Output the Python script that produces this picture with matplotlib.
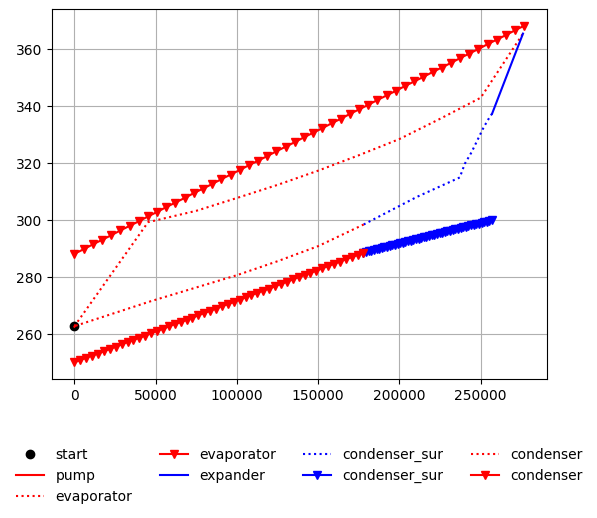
import matplotlib
matplotlib.use('Agg')
import matplotlib.pyplot as plt

# punto inicial y bomba
start_h = [0]
start_T = [262.8]
pump_h = [0, 250]
pump_T = [262.6, 262.8]

# fluido de trabajo en el evaporador
evap_h = [0, 45300, 75000, 100000, 125000, 150000, 175000, 200000, 225000, 250000, 276000]
evap_T = [262.8, 299.3, 303.3, 307.8, 312.4, 317.4, 322.8, 328.5, 335.6, 343.0, 365.5]

# fuente caliente del evaporador
evap_src_h = [0, 5650, 11300, 16950, 22600, 28250, 33900, 39550, 45200, 50850,
              56500, 62150, 67800, 73450, 79100, 84750, 90400, 96050, 101700, 107350,
              113000, 118650, 124300, 129950, 135600, 141250, 146900, 152550, 158200, 163850,
              169500, 175150, 180800, 186450, 192100, 197750, 203400, 209050, 214700, 220350,
              226000, 231650, 237300, 242950, 248600, 254250, 259900, 265550, 271200, 276850]
evap_src_T = [288.2, 289.8, 291.5, 293.1, 294.7, 296.4, 298.0, 299.6, 301.3, 302.9,
              304.6, 306.2, 307.8, 309.5, 311.1, 312.7, 314.4, 316.0, 317.6, 319.3,
              320.9, 322.5, 324.2, 325.8, 327.4, 329.1, 330.7, 332.3, 334.0, 335.6,
              337.3, 338.9, 340.5, 342.2, 343.8, 345.4, 347.1, 348.7, 350.3, 352.0,
              353.6, 355.2, 356.9, 358.5, 360.1, 361.8, 363.4, 365.0, 366.7, 368.3]

# expansor
exp_h = [276000, 257000]
exp_T = [365.5, 337.4]

# condensador, parte sobrecalentada
cond_sur_h = [257000, 255500, 251800, 248400, 244300, 240200, 237100, 210800, 178000]
cond_sur_T = [337.4, 336.2, 332.6, 328.6, 323.8, 319.8, 315.0, 308.2, 298.5]

cond_sur_src_h = [177870, 179485, 181100, 182715, 184330, 185945, 187560, 189175, 190790, 192405,
                  194020, 195635, 197250, 198865, 200480, 202095, 203710, 205325, 206940, 208555,
                  210170, 211785, 213400, 215015, 216630, 218245, 219860, 221475, 223090, 224705,
                  226320, 227935, 229550, 231165, 232780, 234395, 236010, 237625, 239240, 240855,
                  242470, 244085, 245700, 247315, 248930, 250545, 252160, 253775, 255390, 257005]
cond_sur_src_T = [288.60, 288.83, 289.07, 289.30, 289.53, 289.76, 290.00, 290.23, 290.46, 290.69,
                  290.93, 291.16, 291.39, 291.63, 291.86, 292.09, 292.32, 292.56, 292.79, 293.02,
                  293.25, 293.49, 293.72, 293.95, 294.18, 294.42, 294.65, 294.88, 295.12, 295.35,
                  295.58, 295.81, 296.05, 296.28, 296.51, 296.74, 296.98, 297.21, 297.44, 297.68,
                  297.91, 298.14, 298.37, 298.61, 298.84, 299.07, 299.30, 299.54, 299.77, 300.00]

# condensador
cond_h = [178000, 150000, 125000, 100000, 47200, 0]
cond_T = [298.5, 290.9, 285.6, 280.7, 271.6, 262.8]

cond_src_h = [0, 3630, 7260, 10890, 14520, 18150, 21780, 25410, 29040, 32670,
              36300, 39930, 43560, 47190, 50820, 54450, 58080, 61710, 65340, 68970,
              72600, 76230, 79860, 83490, 87120, 90750, 94380, 98010, 101640, 105270,
              108900, 112530, 116160, 119790, 123420, 127050, 130680, 134310, 137940, 141570,
              145200, 148830, 152460, 156090, 159720, 163350, 166980, 170610, 174240, 177870]
cond_src_T = [250.1, 250.9, 251.7, 252.5, 253.2, 254.0, 254.8, 255.6, 256.4, 257.2,
              258.0, 258.7, 259.5, 260.3, 261.1, 261.9, 262.7, 263.5, 264.2, 265.0,
              265.8, 266.6, 267.4, 268.2, 269.0, 269.8, 270.5, 271.3, 272.1, 272.9,
              273.7, 274.5, 275.3, 276.0, 276.8, 277.6, 278.4, 279.2, 280.0, 280.8,
              281.5, 282.3, 283.1, 283.9, 284.7, 285.5, 286.3, 287.0, 287.8, 288.6]


fig, ax = plt.subplots(figsize=(5.97, 5.18))
fig.subplots_adjust(left=0.087, right=0.916, top=0.983, bottom=0.268)

ax.plot(start_h, start_T, 'ko', label='start')
ax.plot(pump_h, pump_T, 'r-', label='pump')
ax.plot(evap_h, evap_T, 'r:', label='evaporator')
ax.plot(evap_src_h, evap_src_T, 'r-v', label='evaporator')
ax.plot(exp_h, exp_T, 'b-', label='expander')
ax.plot(cond_sur_h, cond_sur_T, 'b:', label='condenser_sur')
ax.plot(cond_sur_src_h, cond_sur_src_T, 'b-v', label='condenser_sur')
ax.plot(cond_h, cond_T, 'r:', label='condenser')
ax.plot(cond_src_h, cond_src_T, 'r-v', label='condenser')

ax.grid(True)
ax.legend(loc='upper center', bbox_to_anchor=(0.5, -0.152), ncol=4, frameon=False)

plt.savefig('out.png')
plt.close()
